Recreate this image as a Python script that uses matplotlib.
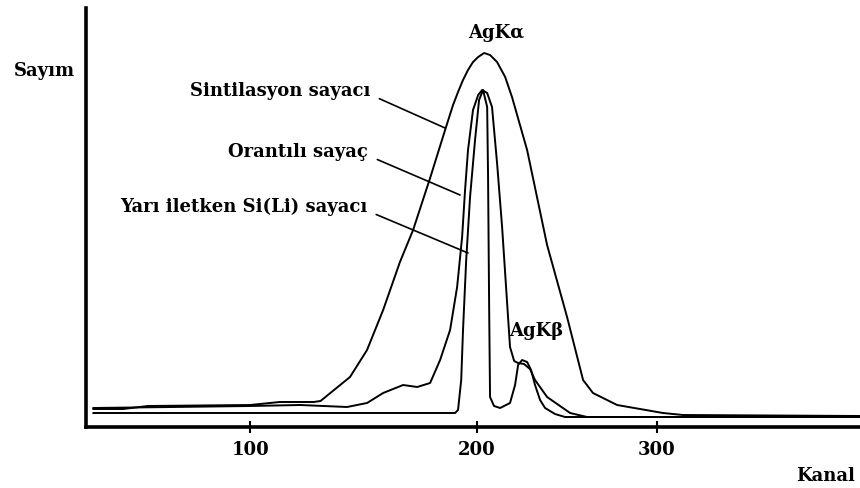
import numpy as np
import matplotlib
matplotlib.use("Agg")
import matplotlib.pyplot as plt

# channel axis of the original is not evenly spaced: 100->200 is wider than 200->300
scale_ch = [0, 100, 200, 300, 500]
scale_px = [22.7, 250, 477, 657, 1017]

# Sintilasyon sayaci (broad peak)
sint_ch = [31, 44, 55, 100, 113, 128, 131, 144, 151.5, 158.6, 166, 171.8, 179.3, 185.9,
           189.4, 191.6, 193.8, 196, 198.2, 200.6, 203.9, 207.2, 211.1, 215.6, 219.4,
           227.8, 238.9, 250, 258.9, 264.4, 277.8, 303.3, 314.4, 412.8]
sint_y = [18, 18, 21, 22, 25, 25, 26, 50, 77, 117, 165, 197, 249, 297,
          322, 335, 347, 357, 365, 370, 374, 372, 365, 350, 330,
          277, 182, 110, 47, 34, 22, 14, 12, 11]

# Orantili sayac (proportional counter)
oran_ch = [31, 100, 122, 142.7, 151.5, 158.6, 167.4, 173.6, 179.3, 183.7, 188.1, 191.2,
           193.4, 194.7, 196, 198.2, 200.6, 202.8, 205.6, 208.3, 211.1, 213.9, 216.1,
           218.3, 220.6, 222.8, 226.1, 229.4, 232.2, 238.9, 251.7, 261.1, 412.8]
oran_y = [19, 21, 22, 20, 24, 34, 42, 40, 44, 67, 97, 140,
          190, 237, 277, 317, 332, 337, 334, 320, 264, 200, 140,
          80, 66, 64, 63, 58, 47, 30, 14, 10, 10]

# Yari iletken Si(Li) sayaci (narrowest peak)
sili_ch = [31, 190.3, 191.6, 193, 193.8, 195.2, 196.9, 199.1, 201.1, 203.3, 205.6, 206.1,
           206.7, 207.2, 209.4, 212.8, 218.3, 221.1, 222.8, 225, 227.8, 230, 232.2,
           235, 237.8, 243.3, 248.9, 412.8]
sili_y = [14, 14, 17, 47, 97, 167, 230, 287, 327, 337, 320, 250,
          120, 30, 21, 19, 24, 42, 62, 67, 65, 57, 42,
          27, 19, 13, 10, 10]

xticks = [100, 200, 300]


def fwd(x):
    return np.interp(x, scale_ch, scale_px)


def inv(p):
    return np.interp(p, scale_px, scale_ch)


serif = dict(family="DejaVu Serif", weight="bold", size=13)

fig = plt.figure(figsize=(8.6, 4.88), dpi=100)
ax = fig.add_axes([86 / 860, 61 / 488, 774 / 860, 419 / 488])
ax.set_xscale("function", functions=(fwd, inv))

for xs, ys in [(sint_ch, sint_y), (oran_ch, oran_y), (sili_ch, sili_y)]:
    ax.plot(xs, ys, color="black", lw=1.4, solid_joinstyle="round")

ax.set_xlim(27.75, 412.8)
ax.set_ylim(0, 419)

for s in ["top", "right"]:
    ax.spines[s].set_visible(False)
for s in ["left", "bottom"]:
    ax.spines[s].set_linewidth(2.6)

ax.set_yticks([])
ax.set_xticks(xticks)
ax.set_xticklabels([str(t) for t in xticks], fontdict=serif)
ax.xaxis.set_minor_locator(matplotlib.ticker.NullLocator())
ax.tick_params(axis="x", direction="inout", length=8, width=1.5, pad=6)

ax.text(-0.014, 0.85, "Sayım", transform=ax.transAxes, ha="right", va="center", **serif)
ax.text(0.9935, -0.117, "Kanal", transform=ax.transAxes, ha="right", va="center", **serif)

ax.text(210.6, 394, "AgKα", ha="center", va="center", **serif)
ax.text(232.8, 96, "AgKβ", ha="center", va="center", **serif)

leaders = [("Sintilasyon sayacı", 152.9, 336, 185.9, 299),
           ("Orantılı sayaç", 152.0, 275, 192.5, 232),
           ("Yarı iletken Si(Li) sayacı", 151.5, 220, 196.0, 174)]
for label, tx, ty, px, py in leaders:
    ax.annotate(label, xy=(px, py), xytext=(tx, ty), ha="right", va="center",
                arrowprops=dict(arrowstyle="-", lw=1.2, color="black",
                                shrinkA=5, shrinkB=0, relpos=(1.0, 0.3)),
                **serif)

fig.savefig("out.png", dpi=100)
